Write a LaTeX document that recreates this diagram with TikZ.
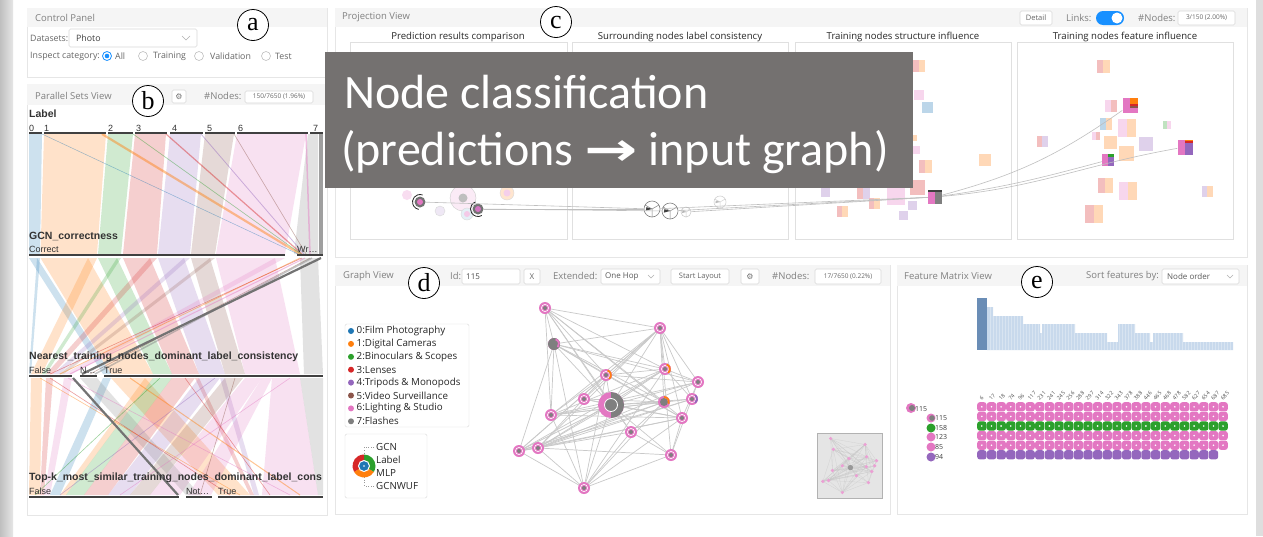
\documentclass[tikz,border=0pt]{standalone}
\usepackage{graphicx}
\usepackage{fontspec}
\setmainfont{Open Sans}
\newfontfamily\arl{Liberation Sans}
\newfontfamily\crl{Carlito}
\newfontfamily\srf{Liberation Serif}
\newfontfamily\dvs{DejaVu Sans}
\usetikzlibrary{calc}
\definecolor{tblue}{HTML}{1F77B4}
\definecolor{torange}{HTML}{FF7F0E}
\definecolor{tgreen}{HTML}{2CA02C}
\definecolor{tred}{HTML}{D62728}
\definecolor{tpurple}{HTML}{9467BD}
\definecolor{tbrown}{HTML}{8C564B}
\definecolor{tpink}{HTML}{E377C2}
\definecolor{tgray}{HTML}{7F7F7F}
\definecolor{ovl}{HTML}{747170}
\definecolor{hdrbg}{HTML}{F5F5F5}
\definecolor{pborder}{HTML}{E6E6E6}
\definecolor{tglblue}{HTML}{1890FF}
\definecolor{histl}{HTML}{C8D9EC}
\definecolor{histd}{HTML}{6A8DB6}
\definecolor{edgec}{HTML}{C9C9C9}
\newcommand\psq[5]{%
  \fill[#4!30] ({#1-#3/2},{#2-#3/2}) rectangle (#1,{#2+#3/2});
  \fill[#5!30] (#1,{#2-#3/2}) rectangle ({#1+#3/2},{#2+#3/2});
}
\newcommand\spk[5]{%
  \node[circle, draw=black!50, draw opacity=#5, fill=white, minimum size={2*#4 pt}, inner sep=0pt, line width=0.6pt] (#1) at (#2,#3) {};
  \draw[black!50, opacity=#5, line width=0.5pt] (#1.center) -- ++(90:#4) (#1.center) -- ++(210:#4) (#1.center) -- ++(330:#4);
  \fill[black!75, opacity=#5] (#1.center) -- ++(165:{#4*0.8}) -- ++(-80:{#4*0.45}) -- cycle;
}
\tikzset{
  panel/.style={fill=white, draw=pborder, line width=0.6pt},
  hdrbar/.style={fill=hdrbg},
  htitle/.style={anchor=west, inner sep=0pt, text=black!50, font=\fontsize{9.5}{11}\selectfont},
  ui/.style={anchor=west, inner sep=0pt, text=black!60, font=\fontsize{8.8}{10}\selectfont},
  uibox/.style={draw=black!15, fill=white, rounded corners=1.5pt, line width=0.6pt},
  small/.style={inner sep=0pt, text=black!60, font=\fontsize{6.5}{7}\selectfont},
  circlab/.style={circle, draw=black, line width=0.8pt, fill=white, minimum size=31pt, inner sep=0pt, font=\srf\fontsize{26}{26}\selectfont},
  axname/.style={anchor=west, inner sep=0pt, font=\arl\bfseries\fontsize{10.5}{11}\selectfont, text=black!80},
  axval/.style={anchor=west, inner sep=0pt, font=\arl\fontsize{9}{10}\selectfont, text=black!80},
  axline/.style={line width=1.3pt, black!75},
  band/.style={fill=#1, fill opacity=0.22},
  psl/.style={draw=#1, draw opacity=0.45, line width=0.6pt},
  subt/.style={inner sep=0pt, font=\fontsize{9.6}{11}\selectfont, text=black!85},
  ibox/.style={draw=black!12, line width=0.6pt},
  pline/.style={draw=black!25, line width=0.6pt},
  gedge/.style={draw=edgec, line width=0.7pt},
  gnode/.style={circle, fill=tpink, minimum size=12pt, inner sep=0pt},
  legt/.style={anchor=west, inner sep=0pt, font=\fontsize{9.8}{11}\selectfont, text=black!85},
  gear/.style={inner sep=0pt, text=black!55, font=\dvs\fontsize{8}{8}\selectfont},
  ovt/.style={anchor=base west, inner sep=0pt, text=white, font=\crl\fontsize{48}{48}\selectfont},
}
\begin{document}
\begin{tikzpicture}[x=1pt,y=-1pt]
\useasboundingbox (0,0) rectangle (1263,536);
\fill[white] (0,0) rectangle (1263,536);
\shade[left color=black!25, right color=black!10] (0,0) rectangle (13,536);
\fill[black!13] (1256,0) rectangle (1263,536);

%% ---------------- Control panel
\draw[panel] (27,8) rectangle (327,77);
\fill[hdrbar] (27.3,8.3) rectangle (326.7,27);
\node[htitle] (cpt) at (35,18) {Control Panel};
\node[ui] (dsl) at (30,38.5) {Datasets:};
\draw[uibox] (69,29) rectangle (197,47);
\node[ui, text=black!75] (dsv) at (76,38.5) {Photo};
\draw[black!30, line width=0.5pt] (182,36) -- (186,40) -- (190,36);
\node[ui] (icl) at (30,56) {Inspect category:};
\draw[tglblue, line width=0.8pt, fill=white] (107,56) circle (4.5);
\fill[tglblue] (107,56) circle (2.3);
\node[ui] (r1) at (115,56) {All};
\draw[black!25, line width=0.6pt, fill=white] (143,56) circle (4.5);
\node[ui] (r2) at (153,56) {Training};
\draw[black!25, line width=0.6pt, fill=white] (199,56) circle (4.5);
\node[ui] (r3) at (210,56) {Validation};
\draw[black!25, line width=0.6pt, fill=white] (266,56) circle (4.5);
\node[ui] (r4) at (275,56) {Test};

%% ---------------- Parallel sets view
\draw[panel] (27,84) rectangle (327,515);
\fill[hdrbar] (27.3,84.3) rectangle (326.7,105);
\node[htitle] (pst) at (35,96) {Parallel Sets View};
\draw[uibox] (172,90) rectangle (186,103);
\node[gear] (pgear) at (179,96.5) {⚙};
\node[ui, text=black!50, font=\fontsize{9.5}{10}\selectfont] (pnl) at (204,96) {\#Nodes:};
\draw[uibox] (245,91) rectangle (313,103);
\node[small] (pnv) at (279,97) {150/7650 (1.96\%)};

% Label -> GCN
\fill[band=tblue] (29,134) -- (42,134) -- (40,254) -- (29,254) -- cycle;
\fill[band=torange] (44,134) -- (106,134) -- (97,254) -- (40.5,254) -- cycle;
\fill[band=tgreen] (108,134) -- (133,134) -- (121,254) -- (98,254) -- cycle;
\fill[band=tred] (135,134) -- (166,134) -- (157,254) -- (123,254) -- cycle;
\fill[band=tpurple] (170,134) -- (201,134) -- (190,254) -- (158,254) -- cycle;
\fill[band=tbrown] (205,134) -- (234,134) -- (215,254) -- (191,254) -- cycle;
\fill[band=tpink] (237,134) -- (306,134) -- (285,254) -- (216,254) -- cycle;
\fill[band=tgray] (308,134) -- (318,134) -- (318,254) -- (294,254) -- cycle;
\fill[tgray, fill opacity=.75] (318.5,134) rectangle (323,254);
\draw[psl=torange, line width=2.2pt] (102,134) -- (300,254);
\draw[psl=tred, line width=1.2pt] (166,134) -- (302,254);
\draw[psl=tpurple, line width=0.8pt] (201,134) -- (304,254);
\draw[psl=tblue, line width=0.5pt] (42,134) -- (298,254);
\draw[psl=tgreen] (133,134) -- (301,254);
\draw[psl=tbrown] (234,134) -- (306,254);
\draw[psl=tpink, line width=1.5pt] (306,134) -- (310,254);

% GCN -> Nearest
\fill[band=tblue] (29,258) -- (37,258) -- (111,374) -- (103,374) -- cycle;
\fill[band=tblue] (37,258) -- (40,258) -- (31,374) -- (29,374) -- cycle;
\fill[band=torange] (40.5,258) -- (88,258) -- (153,374) -- (111,374) -- cycle;
\fill[band=torange] (88,258) -- (97,258) -- (42,374) -- (31,374) -- cycle;
\fill[band=tgreen] (98,258) -- (117,258) -- (172,374) -- (153,374) -- cycle;
\fill[band=tgreen] (117,258) -- (121,258) -- (46,374) -- (42,374) -- cycle;
\fill[band=tred] (123,258) -- (150,258) -- (199,374) -- (172,374) -- cycle;
\fill[band=tred] (150,258) -- (157,258) -- (53,374) -- (46,374) -- cycle;
\fill[band=tpurple] (158,258) -- (184,258) -- (225,374) -- (199,374) -- cycle;
\fill[band=tpurple] (184,258) -- (190,258) -- (59,374) -- (53,374) -- cycle;
\fill[band=tbrown] (191,258) -- (210,258) -- (245,374) -- (225,374) -- cycle;
\fill[band=tbrown] (210,258) -- (215,258) -- (64,374) -- (59,374) -- cycle;
\fill[band=tpink] (216,258) -- (275,258) -- (300,374) -- (245,374) -- cycle;
\fill[band=tpink] (275,258) -- (285,258) -- (72,374) -- (64,374) -- cycle;
\fill[band=tgray] (300,258) -- (318,258) -- (323,374) -- (304,374) -- cycle;
\draw[psl=tpink, line width=1pt] (305,258) -- (70,374);
\draw[psl=torange, line width=0.8pt] (300,258) -- (60,374);
\draw[psl=tbrown] (310,258) -- (90,374);
\draw[psl=tred] (302,258) -- (50,374);
\draw[psl=tgray, line width=1.5pt] (312,258) -- (95,374);
\draw[black!55, line width=2.2pt] (321,258) -- (82,374);

% Nearest -> Top-k
\fill[band=torange] (31,378) -- (42,378) -- (40,495) -- (29,495) -- cycle;
\fill[band=tred] (46,378) -- (53,378) -- (44,495) -- (40,495) -- cycle;
\fill[band=tpink] (64,378) -- (72,378) -- (50,495) -- (44,495) -- cycle;
\fill[band=tblue] (103,378) -- (111,378) -- (60,495) -- (50,495) -- cycle;
\fill[band=torange] (111,378) -- (145,378) -- (250,495) -- (218,495) -- cycle;
\fill[band=torange] (145,378) -- (153,378) -- (66,495) -- (60,495) -- cycle;
\fill[band=tgreen] (153,378) -- (172,378) -- (84,495) -- (66,495) -- cycle;
\fill[band=tred] (172,378) -- (195,378) -- (108,495) -- (84,495) -- cycle;
\fill[band=tred] (195,378) -- (199,378) -- (254,495) -- (250,495) -- cycle;
\fill[band=tpurple] (199,378) -- (220,378) -- (130,495) -- (108,495) -- cycle;
\fill[band=tpurple] (220,378) -- (225,378) -- (259,495) -- (254,495) -- cycle;
\fill[band=tbrown] (225,378) -- (243,378) -- (150,495) -- (130,495) -- cycle;
\fill[band=tpink] (245,378) -- (262,378) -- (180,495) -- (150,495) -- cycle;
\fill[band=tpink] (262,378) -- (272,378) -- (211,495) -- (188,495) -- cycle;
\fill[band=tpink] (272,378) -- (300,378) -- (318,495) -- (262,495) -- cycle;
\fill[band=tgray] (300,378) -- (323,378) -- (323,495) -- (318,495) -- cycle;
\fill[band=tgray] (80,378) -- (97,378) -- (200,495) -- (186,495) -- cycle;
\draw[psl=torange] (40,378) -- (240,495);
\draw[psl=tpink] (68,378) -- (290,495);
\draw[psl=tred] (50,378) -- (230,495);
\draw[psl=tgreen] (160,378) -- (35,495);
\draw[psl=tpurple] (215,378) -- (60,495);
\draw[psl=tbrown] (235,378) -- (200,495);
\draw[psl=torange, line width=1pt] (130,378) -- (300,495);
\draw[psl=tpink] (290,378) -- (120,495);
\draw[psl=tred] (185,378) -- (270,495);
\draw[black!55, line width=2.2pt] (73,378) -- (178,495);

% axes
\node[axname] (axl) at (29,114) {Label};
\foreach \px/\lab in {29/0,44/1,108/2,136/3,172/4,207/5,238/6,313/7}
  \node[axval] (lv\lab) at (\px,128) {\lab};
\foreach \a/\b in {29/42,44/106,108/133,135/167,170/203,205/235,237/308,310/323}
  \draw[axline] (\a,133) -- (\b,133);
\node[axname] (axg) at (29,236) {GCN\_correctness};
\node[axval] (gv1) at (29,249) {Correct};
\node[axval] (gv2) at (297,249) {Wr…};
\draw[axline] (29,255) -- (285,255);
\draw[axline] (297,255) -- (323,255);
\node[axname] (axn) at (29,357) {Nearest\_training\_nodes\_dominant\_label\_consistency};
\node[axval] (nv1) at (29,370) {False};
\node[axval] (nv2) at (80,370) {N…};
\node[axval] (nv3) at (104,370) {True};
\draw[axline] (29,376) -- (72,376);
\draw[axline] (80,376) -- (97,376);
\draw[axline] (104,376) -- (323,376);
\node[axname] (axt) at (29,478) {Top-k\_most\_similar\_training\_nodes\_dominant\_label\_cons};
\node[axval] (tv1) at (29,491) {False};
\node[axval] (tv2) at (186,491) {Not…};
\node[axval] (tv3) at (218,491) {True};
\draw[axline] (29,497) -- (179,497);
\draw[axline] (186,497) -- (212,497);
\draw[axline] (218,497) -- (323,497);

%% ---------------- Projection view
\draw[panel] (335,8) rectangle (1247,257);
\fill[hdrbar] (335.3,8.3) rectangle (1246.7,27);
\node[htitle] (prt) at (342,17.5) {Projection View};
\draw[uibox] (1020,11) rectangle (1052,25);
\node[small, font=\fontsize{7.5}{8}\selectfont] (pdet) at (1036,18) {Detail};
\node[ui, text=black!50, font=\fontsize{9.5}{10}\selectfont] (plk) at (1066,18) {Links:};
\fill[tglblue, rounded corners=7pt] (1096,11) rectangle (1124,25);
\fill[white] (1117,18) circle (5.5);
\node[ui, text=black!50, font=\fontsize{9.5}{10}\selectfont] (pnl2) at (1138,18) {\#Nodes:};
\draw[uibox] (1178,11) rectangle (1235,25);
\node[small] (pnv2) at (1206.5,18) {3/150 (2.00\%)};
\node[subt] (st1) at (458,37) {Prediction results comparison};
\node[subt] (st2) at (680,37) {Surrounding nodes label consistency};
\node[subt] (st3) at (903,37) {Training nodes structure influence};
\node[subt] (st4) at (1125,37) {Training nodes feature influence};
\draw[ibox] (350,42) rectangle (567,239);
\draw[ibox] (572,42) rectangle (788,239);
\draw[ibox] (795,42) rectangle (1011,239);
\draw[ibox] (1017,42) rectangle (1233,239);

% box 3 pale squares
\psq{919}{66}{12}{tred}{torange}
\psq{919}{95}{10}{tpink}{tpink}
\psq{927}{107}{11}{tblue}{tblue}
\psq{914}{138}{6}{torange}{torange}
\psq{916}{150}{8}{tpink}{tpink}
\psq{925}{166}{13}{tred}{torange}
\psq{985}{160}{12}{torange}{torange}
\psq{917}{187}{15}{tred}{tred}
\psq{896}{196}{18}{tpink}{tpink}
\psq{863}{192}{13}{tred}{tpurple}
\psq{825}{192}{9}{tpurple}{tpurple}
\psq{874}{203}{11}{tred}{torange}
\psq{842}{211}{11}{tred}{torange}
\psq{903}{215}{9}{tpurple}{tpurple}
\psq{912}{205}{9}{tpurple}{tpurple}
% box 4 pale squares
\psq{1103}{66}{13}{tred}{torange}
\psq{1111}{106}{12}{tpink}{tred}
\psq{1106}{124}{12}{tblue}{torange}
\psq{1127}{128}{18}{tpink}{torange}
\psq{1167}{125}{8}{tgreen}{tpink}
\psq{1096}{136}{8}{tpink}{tred}
\psq{1110}{142}{13}{torange}{torange}
\psq{1146}{144}{14}{tpurple}{tpurple}
\psq{1042}{141}{11}{tred}{tpurple}
\psq{1126}{153}{15}{torange}{torange}
\psq{1105}{185}{15}{tred}{torange}
\psq{1128}{191}{18}{tpink}{torange}
\psq{1207}{191}{11}{tpurple}{torange}
\psq{1094}{214}{18}{tred}{torange}

% box 1 glyphs
\fill[tpink!25] (407,195) circle (5);
\draw[black!20, fill=tpink!15] (463,198) circle (13);
\fill[black!25] (463,198) circle (4.5);
\draw[black!15, fill=torange!20] (507,193) circle (7);
\fill[tpink!35] (507,193) circle (3.5);
\draw[black!15, fill=tpurple!15] (440,211) circle (5);
\draw[black!15, fill=tblue!12] (467,214) circle (6);
\fill[tpink!40] (467,214) circle (3);
\node[circle, fill=black!55, minimum size=11pt, inner sep=0pt] (p1) at (420,202) {};
\fill[tpink] (420,202) circle (3);
\draw[black!85, line width=0.8pt] (420,202) ++(100:7.5) arc (100:290:7.5);
\node[circle, fill=black!55, minimum size=11pt, inner sep=0pt] (p2) at (478,209) {};
\fill[tpink!80!tpurple] (478,209) circle (3);
\draw[black!85, line width=0.8pt] (478,209) ++(60:7.5) arc (60:250:7.5);

% box 2 glyphs
\spk{s4}{720}{202}{6}{0.35}
\spk{s3}{686}{212}{5}{0.4}
\spk{s1}{652}{209}{8}{1}
\spk{s2}{670}{211}{8}{1}

% box 3 highlighted square
\node[minimum size=14pt, inner sep=0pt, fill=tpink] (d3) at (935,197) {};
\fill[tgray] (935,192) rectangle (942,204);
\fill[black!75] (928,190) rectangle (942,192);
% box 4 highlighted squares
\node[minimum size=15pt, inner sep=0pt, fill=tpink] (q1) at (1130,105) {};
\fill[torange] (1130,97.5) rectangle (1137.5,104);
\fill[tred] (1130,104) rectangle (1137.5,106);
\fill[tbrown] (1130,106) rectangle (1137.5,107.5);
\node[minimum size=12pt, inner sep=0pt, fill=tpink] (q2) at (1108,160) {};
\fill[tgreen] (1108,154) rectangle (1114,157);
\fill[tpurple] (1108,157) rectangle (1114,166);
\node[minimum size=15pt, inner sep=0pt, fill=tpink] (q3) at (1185,147) {};
\fill[torange] (1185,139.5) rectangle (1192.5,141);
\fill[tred] (1185,141) rectangle (1192.5,142.5);
\fill[tpurple] (1185,142.5) rectangle (1192.5,154.5);

% projection links
\draw[pline] (p1) -- (s1);
\draw[pline] (p2) -- (s1);
\draw[pline] (p2) -- (s2);
\draw[pline] (s1) -- (d3);
\draw[pline] (s2) -- (d3);
\draw[pline] (s3) -- (d3);
\draw[pline] (d3) to[out=15, in=215] (q1);
\draw[pline] (d3) to[out=8, in=195] (q2);
\draw[pline] (d3) to[out=5, in=190] (q3);

% overlay title
\fill[ovl] (325,52) rectangle (913,188);
\node[ovt] (ov1) at (344,108) {Node classification};
\node[ovt] (ov2) at (341,165) {(predictions \scalebox{1.45}[1.05]{\dvs\bfseries\fontsize{44}{44}\selectfont →} input graph)};

%% ---------------- Graph view
\draw[panel] (335,265) rectangle (890,514);
\fill[hdrbar] (335.3,265.3) rectangle (889.7,286);
\node[htitle] (gvt) at (343,276) {Graph View};
\node[ui, text=black!50, font=\fontsize{9.5}{10}\selectfont] (gid) at (450,276) {Id:};
\draw[uibox] (462,269) rectangle (520,284);
\node[ui, text=black!70, font=\fontsize{8}{9}\selectfont] (gidv) at (466,276.5) {115};
\draw[uibox] (524,269) rectangle (540,284);
\node[small, font=\fontsize{8}{9}\selectfont] (gx) at (532,276.5) {X};
\node[ui, text=black!50, font=\fontsize{9.5}{10}\selectfont] (gext) at (553,276) {Extended:};
\draw[uibox] (601,269) rectangle (660,284);
\node[ui, text=black!65, font=\fontsize{8}{9}\selectfont] (gextv) at (605,276.5) {One Hop};
\draw[black!30, line width=0.5pt] (648,275) -- (651,278) -- (654,275);
\draw[uibox] (671,269) rectangle (729,284);
\node[small, font=\fontsize{7.5}{8}\selectfont] (gsl) at (700,276.5) {Start Layout};
\draw[uibox] (741,269) rectangle (759,284);
\node[gear] (ggear) at (750,276.5) {⚙};
\node[ui, text=black!50, font=\fontsize{9.5}{10}\selectfont] (gnl) at (772,276) {\#Nodes:};
\draw[uibox] (815,269) rectangle (881,284);
\node[small] (gnv) at (848,276.5) {17/7650 (0.22\%)};

\def\gnodes{545/308/1,660/328/2,554/344/3,606/375/4,665/369/5,698/382/6,611/405/7,584/399/8,551/415/9,664/402/10,692/399/11,682/418/12,631/432/13,519/451/14,538/448/15,671/455/16,584/488/17}
\def\gedges{1/2,1/3,1/4,1/5,1/10,1/12,1/13,1/9,2/3,2/4,2/5,2/6,2/8,2/9,2/10,2/14,2/15,2/16,2/12,3/4,3/5,3/6,3/14,3/17,3/10,3/12,4/5,4/6,4/9,4/12,4/15,4/14,5/6,5/9,5/11,5/14,5/15,6/12,6/15,6/16,6/9,8/10,8/12,9/10,9/11,9/12,10/14,10/15,11/14,11/15,12/14,12/15,12/16,13/14,13/10,14/15,14/17,15/16,15/17,16/17,13/17,10/17,9/17,12/17,16/13,4/17,5/17,2/11,3/9,1/7,2/7,3/7,4/7,5/7,6/7,8/7,9/7,10/7,11/7,12/7,13/7,14/7,15/7,16/7,17/7}
\foreach \x/\y/\i in \gnodes {\coordinate (g\i) at (\x,\y);}
\foreach \a/\b in \gedges {\draw[gedge] (g\a) -- (g\b);}
\foreach \x/\y/\i in \gnodes {\node[gnode] (gn\i) at (g\i) {};}
\foreach \i in {1,2,4,5,6,8,9,11,12,13,14,15,16,17} {
  \draw[white, line width=0.6pt] (g\i) circle (3.6);
  \fill[tgray] (g\i) circle (2);
}
\fill[tgray] (g3) circle (6);
\draw[tpink, line width=1.8pt] (g3) ++(-70:5) arc (-70:40:5);
\draw[torange, line width=1.8pt] (g4) ++(-70:5) arc (-70:50:5);
\draw[torange, line width=1.8pt] (g5) ++(-70:5) arc (-70:50:5);
\fill[tgray] (g10) circle (4);
\draw[torange, line width=1.8pt] (g10) ++(-90:5) arc (-90:20:5);
\draw[tpurple, line width=1.8pt] (g11) ++(-50:5) arc (-50:50:5);
\fill[tpink] (g7) circle (13);
\fill[tgray] (611,418) arc (90:-90:13) -- cycle;
\draw[white, line width=0.8pt, fill=tgray] (g7) circle (6.5);

% legend
\draw[draw=black!15, fill=white, rounded corners=1.5pt] (345,324) rectangle (469,427);
\foreach \c/\t [count=\k from 0] in {tblue/0:Film Photography, torange/1:Digital Cameras, tgreen/2:Binoculars \& Scopes, tred/3:Lenses, tpurple/4:Tripods \& Monopods, tbrown/5:Video Surveillance, tpink/6:Lighting \& Studio, tgray/7:Flashes} {
  \fill[\c] (351,{331+\k*12.9}) circle (3);
  \node[legt] (lg\k) at (356.5,{331+\k*12.9}) {\t};
}
\draw[draw=black!15, fill=white, rounded corners=1.5pt] (345,434) rectangle (427,498);
\draw[black!40, dotted, line width=0.6pt] (374,447) -- (364,447) -- (364,455);
\draw[black!40, dotted, line width=0.6pt] (374,486) -- (364,486) -- (364,477);
\fill[torange] (364,466) -- ++(30:11.5) arc (30:150:11.5) -- cycle;
\fill[tgreen] (364,466) -- ++(-90:11.5) arc (-90:30:11.5) -- cycle;
\fill[tred] (364,466) -- ++(150:11.5) arc (150:270:11.5) -- cycle;
\draw[white, line width=1pt, fill=tblue] (364,466) circle (5.5);
\fill[white] (364,466) circle (0.8);
\node[legt] (mg1) at (376,447) {GCN};
\node[legt] (mg2) at (376,460) {Label};
\node[legt] (mg3) at (376,473) {MLP};
\node[legt] (mg4) at (376,486) {GCNWUF};

% minimap
\draw[fill=black!10, draw=black!30, line width=0.8pt] (817,433) rectangle (882,498);
\begin{scope}[shift={(849.5,465.5)}, scale=0.3, shift={(-608,-398)}]
  \foreach \x/\y/\i in \gnodes {\coordinate (m\i) at (\x,\y);}
  \foreach \a/\b in \gedges {\draw[edgec!80!black!60, line width=0.3pt, opacity=.6] (m\a) -- (m\b);}
  \foreach \x/\y/\i in \gnodes {\fill[tpink!70] (m\i) circle (6);}
  \fill[tgray!80] (m7) circle (9);
\end{scope}

%% ---------------- Feature matrix view
\draw[panel] (897,265) rectangle (1247,514);
\fill[hdrbar] (897.3,265.3) rectangle (1246.7,286);
\node[htitle] (fmt) at (904,276) {Feature Matrix View};
\node[ui, text=black!50, font=\fontsize{9.5}{10}\selectfont] (fsort) at (1086,276) {Sort features by:};
\draw[uibox] (1162,269) rectangle (1239,284);
\node[ui, text=black!65, font=\fontsize{8}{9}\selectfont] (fsv) at (1167,276.5) {Node order};
\draw[black!30, line width=0.5pt] (1227,275) -- (1230,278) -- (1233,275);

\fill[histl] (987,350) -- (987,307) -- (993,307) -- (993,316) -- (1023,316) -- (1023,324) -- (1040,324) -- (1040,333) -- (1042,333) -- (1042,324) -- (1075,324) -- (1075,333) -- (1107,333) -- (1107,342) -- (1118,342) -- (1118,324) -- (1135,324) -- (1135,333) -- (1150,333) -- (1150,342) -- (1153,342) -- (1153,333) -- (1183,333) -- (1183,342) -- (1233,342) -- (1233,350) -- cycle;
\foreach \xx in {990,993,...,1232} \draw[white, opacity=.3, line width=0.3pt] (\xx,305) -- (\xx,350);
\fill[histd] (977,298) rectangle (987,350);

\foreach \r/\c/\n/\dt in {0/tpink/26/1, 1/tpink/26/1, 2/tgreen/26/1, 3/tpink/26/1, 4/tpink/26/1, 5/tpurple/25/0} {
  \foreach \k in {1,...,\n} {
    \fill[\c, rounded corners=2.5pt] ({977+(\k-1)*9.65+0.2}, {402+\r*9.6+0.2}) rectangle ++(9.3,9.2);
    \ifnum\dt=1 \fill[white] ({977+(\k-0.5)*9.65}, {402+(\r+0.5)*9.6}) circle (0.9); \fi
  }
}
\foreach \lab [count=\i] in {6,17,18,74,96,117,231,241,245,256,288,297,314,322,343,378,388,446,465,468,478,582,627,654,687,685}
  \node[rotate=45, anchor=west, inner sep=0pt, text=black!70, font=\fontsize{5.3}{6}\selectfont] (cl\i) at ({977+(\i-0.5)*9.65-1.5}, 399) {\lab};

\fill[tpink] (911,408) circle (5);
\fill[tgray] (912,408) circle (3);
\node[anchor=west, inner sep=0pt, text=black!75, font=\fontsize{7}{8}\selectfont] (rl0) at (915,409) {115};
\foreach \c/\t/\yy [count=\k] in {tpink/115/418, tgreen/158/428, tpink/123/437, tpink/85/447, tpurple/94/457} {
  \fill[\c] (931,\yy) circle (4.5);
  \node[anchor=west, inner sep=0pt, text=black!75, font=\fontsize{7}{8}\selectfont] (rl\k) at (935,\yy) {\t};
}
\fill[tgray] (932,418) circle (2.8);

%% ---------------- circled letters
\node[circlab] (ca) at (253,25) {a};
\node[circlab] (cb) at (148,101) {b};
\node[circlab] (cc) at (556,22) {c};
\node[circlab] (cd) at (424,283) {d};
\node[circlab] (ce) at (1037,282) {e};
\end{tikzpicture}
\end{document}
